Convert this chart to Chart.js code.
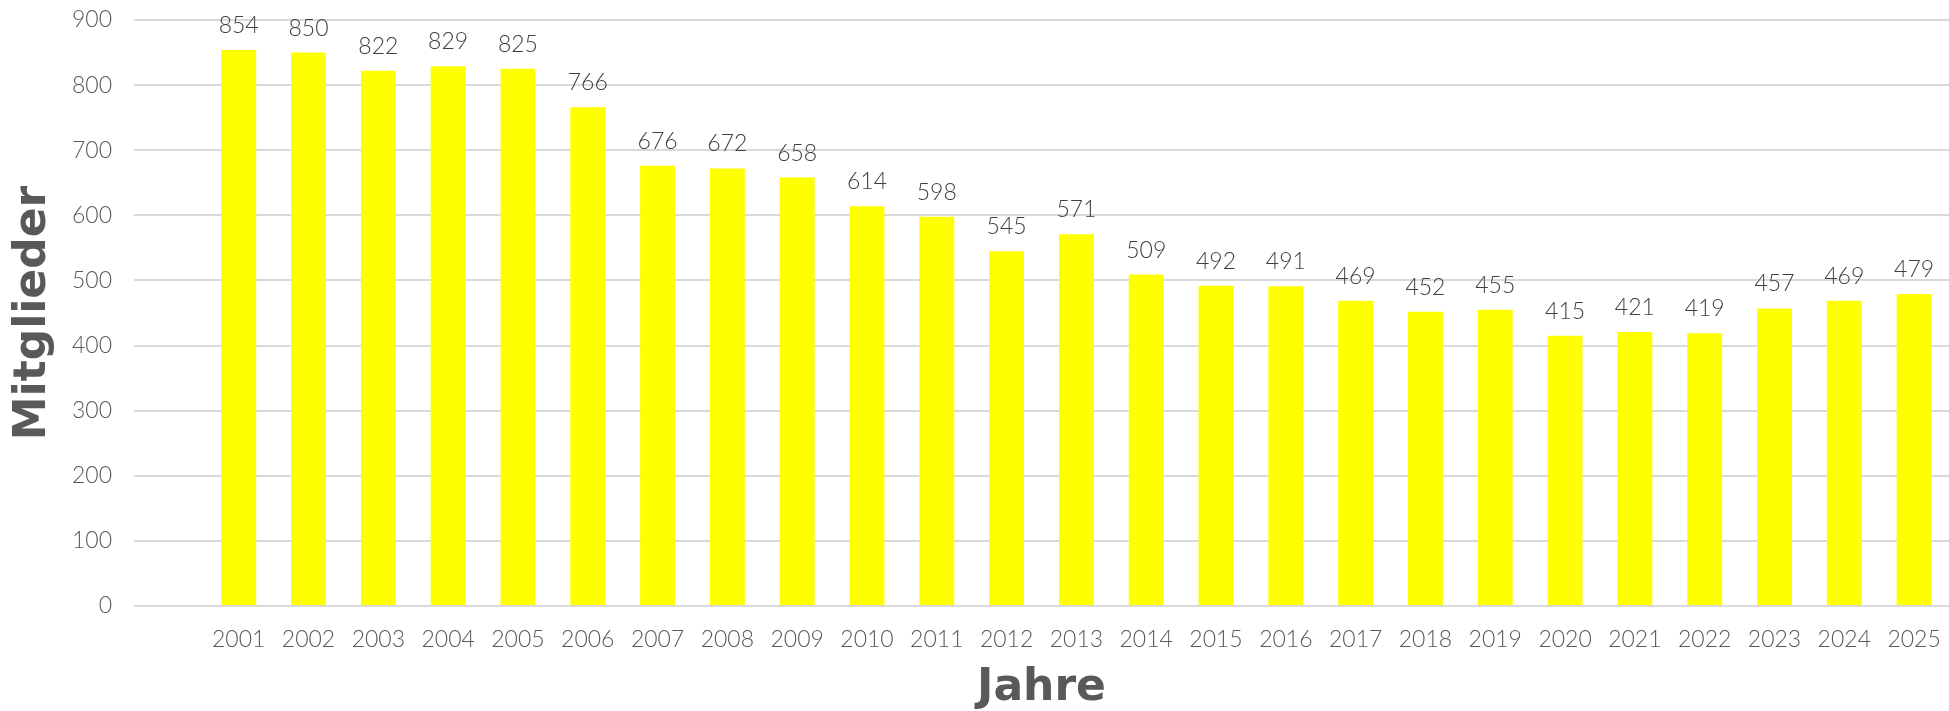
<!DOCTYPE html>
<html lang="de">
<head>
  <meta charset="UTF-8" />
  <title>Mitglieder</title>
  <style>
    html, body { margin: 0; padding: 0; background: #fff; }
    #wrap { width: 1949px; height: 711px; }
  </style>
</head>
<body>
  <div id="wrap"><canvas id="chart" width="1949" height="711"></canvas></div>

  <script src="https://cdn.jsdelivr.net/npm/chart.js"></script>
  <script>
    // chart data
    const years = ['2001', '2002', '2003', '2004', '2005', '2006', '2007', '2008', '2009', '2010',
      '2011', '2012', '2013', '2014', '2015', '2016', '2017', '2018', '2019', '2020',
      '2021', '2022', '2023', '2024', '2025'];
    const members = [854, 850, 822, 829, 825, 766, 676, 672, 658, 614,
      598, 545, 571, 509, 492, 491, 469, 452, 455, 415,
      421, 419, 457, 469, 479];
    const yTicks = [0, 100, 200, 300, 400, 500, 600, 700, 800, 900];

    // the original leaves one empty slot before 2001
    const labels = [''].concat(years);
    const values = [null].concat(members);

    const tickFont = { family: 'Lato', size: 23, weight: 300 };
    const titleFont = { family: 'DejaVu Sans', size: 44, weight: 'bold', lineHeight: 1 };
    const textColor = '#595959';

    // value above each bar
    const barLabels = {
      id: 'barLabels',
      afterDatasetsDraw(chart) {
        const ctx = chart.ctx;
        const meta = chart.getDatasetMeta(0);
        ctx.save();
        ctx.font = '300 23px Lato';
        ctx.fillStyle = '#404040';
        ctx.textAlign = 'center';
        ctx.textBaseline = 'alphabetic';
        meta.data.forEach((bar, i) => {
          const v = values[i];
          if (v == null) return;
          ctx.fillText(String(v), bar.x, bar.y - 17);
        });
        ctx.restore();
      }
    };

    new Chart(document.getElementById('chart'), {
      type: 'bar',
      data: {
        labels: labels,
        datasets: [{
          data: values,
          backgroundColor: '#ffff00',
          borderWidth: 0,
          barPercentage: 0.5,
          categoryPercentage: 1
        }]
      },
      options: {
        responsive: false,
        animation: false,
        layout: { padding: { top: 20, right: 0, bottom: 0, left: 0 } },
        plugins: {
          legend: { display: false },
          tooltip: { enabled: false }
        },
        scales: {
          x: {
            grid: { display: false, drawTicks: false },
            border: { display: false },
            ticks: { color: textColor, font: tickFont, padding: 20, maxRotation: 0, autoSkip: false },
            title: {
              display: true,
              text: 'Jahre',
              color: textColor,
              font: titleFont,
              padding: { top: 0, bottom: 0 }
            },
            afterFit(scale) {
              scale.height = 105;
              scale.paddingLeft = 0;
              scale.paddingRight = 0;
            }
          },
          y: {
            min: 0,
            max: 900,
            afterBuildTicks(scale) { scale.ticks = yTicks.map(v => ({ value: v })); },
            grid: { color: '#d9d9d9', lineWidth: 2, drawTicks: false },
            border: { display: false },
            ticks: { color: textColor, font: tickFont, padding: 22 },
            title: {
              display: true,
              text: 'Mitglieder',
              color: textColor,
              font: titleFont,
              padding: { top: 12, bottom: 0 }
            },
            afterFit(scale) {
              scale.width = 134;
              scale.paddingTop = 0;
              scale.paddingBottom = 0;
            }
          }
        }
      },
      plugins: [barLabels]
    });
  </script>
</body>
</html>
